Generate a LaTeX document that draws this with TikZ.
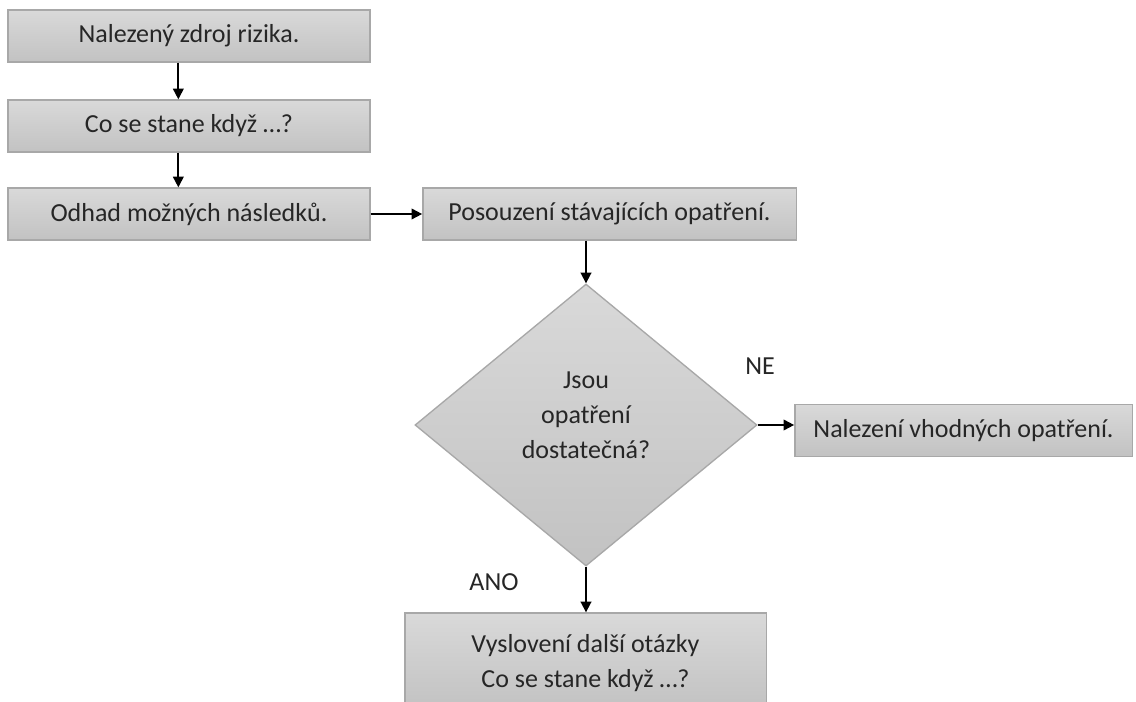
\documentclass[tikz,border=0pt]{standalone}
\usepackage{fontspec}
\setmainfont{Carlito}
\usetikzlibrary{shapes.geometric,arrows.meta}
\definecolor{boxtop}{HTML}{D9D9D9}
\definecolor{boxbot}{HTML}{C2C2C2}
\definecolor{boxline}{HTML}{A8A8A8}
\definecolor{txt}{HTML}{262626}
\tikzset{
    box/.style={draw=boxline, line width=1pt, top color=boxtop, bottom color=boxbot,
        minimum height=39pt, inner sep=0pt, text=txt, align=center},
    decision/.style={diamond, draw=boxline, line width=1pt, top color=boxtop, bottom color=boxbot,
        minimum width=256.5pt, minimum height=211.5pt, inner sep=0pt, text=txt, align=center},
    conn/.style={line width=1.3pt, -{Triangle[width=8pt,length=8pt]}}
}
\begin{document}
\begin{tikzpicture}[x=0.75pt, y=-0.75pt, font=\fontsize{19.5}{26.5}\selectfont]
    \useasboundingbox[fill=white] (0,0) rectangle (1136,702);

    % Left column:
    \node[box, minimum width=271.5pt] (zdroj) at (189,36) {Nalezený zdroj rizika.};
    \node[box, minimum width=271.5pt] (stane) at (189,126) {Co se stane když …?};
    \node[box, minimum width=271.5pt] (odhad) at (189,214) {Odhad možných následků.};

    % Right part:
    \node[box, minimum width=280pt] (posouz) at (609.5,214) {Posouzení stávajících opatření.};
    \node[decision, text depth=15pt] (dost) at (586,425) {Jsou\\opatření\\dostatečná?};
    \node[box, minimum width=253pt] (vhodne) at (963.5,430.5) {Nalezení vhodných opatření.};
    \node[box, minimum width=271pt, minimum height=72pt, text depth=0pt] (dalsi) at (585.5,661)
        {Vyslovení další otázky\\Co se stane když …?};

    % Labels of the branches:
    \node[text=txt] (ne) at (760,366) {NE};
    \node[text=txt] (ano) at (494,582) {ANO};

    % Arrows:
    \draw[conn] ([xshift=-8pt]zdroj.south) -- ([xshift=-8pt]stane.north);
    \draw[conn] ([xshift=-8pt]stane.south) -- ([xshift=-8pt]odhad.north);
    \draw[conn] (odhad.east) -- (posouz.west);
    \draw[conn] (dost.north |- posouz.south) -- (dost.north);
    \draw[conn] (dost.east) -- (dost.east -| vhodne.west);
    \draw[conn] (dost.south) -- (dost.south |- dalsi.north);
\end{tikzpicture}
\end{document}
